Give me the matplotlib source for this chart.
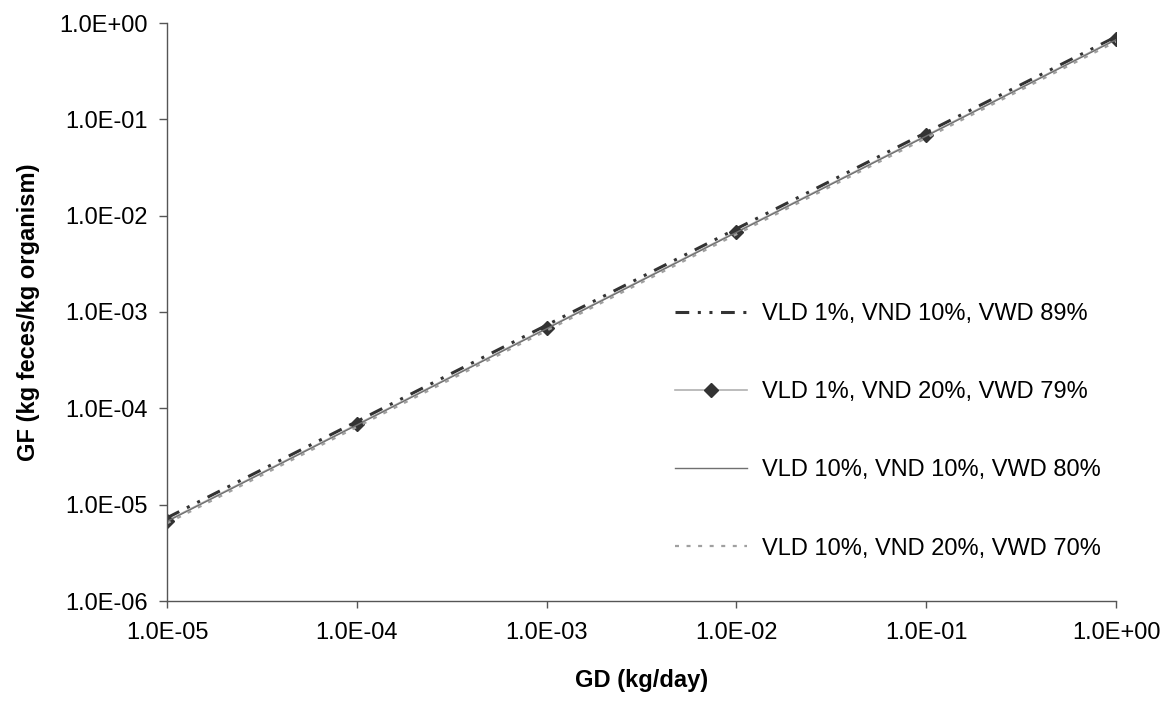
import numpy as np
import matplotlib.pyplot as plt
from matplotlib.ticker import FixedLocator, NullLocator

plt.rcParams['font.family'] = ['Liberation Sans', 'DejaVu Sans']

gd = [1e-5, 1e-4, 1e-3, 1e-2, 1e-1, 1e0]
gf_vld1_vnd10 = [7.3e-6, 7.3e-5, 7.3e-4, 7.3e-3, 7.3e-2, 0.72]
gf_vld1_vnd20 = [6.8e-6, 6.8e-5, 6.8e-4, 6.8e-3, 6.8e-2, 0.68]
gf_vld10_vnd10 = [6.7e-6, 6.7e-5, 6.7e-4, 6.7e-3, 6.7e-2, 0.67]
gf_vld10_vnd20 = [6.4e-6, 6.4e-5, 6.4e-4, 6.4e-3, 6.4e-2, 0.64]

labels = ['VLD 1%, VND 10%, VWD 89%',
          'VLD 1%, VND 20%, VWD 79%',
          'VLD 10%, VND 10%, VWD 80%',
          'VLD 10%, VND 20%, VWD 70%']
xticklabels = ['1.0E-05', '1.0E-04', '1.0E-03', '1.0E-02', '1.0E-01', '1.0E+00']
yticklabels = ['1.0E-06', '1.0E-05', '1.0E-04', '1.0E-03', '1.0E-02', '1.0E-01', '1.0E+00']

W, H = 1174, 702
fs = 17

fig = plt.figure(figsize=(W / 100, H / 100), dpi=100)
ax = fig.add_axes([167 / W, 1 - 601 / H, (1116 - 167) / W, (601 - 23) / H])

ax.plot(gd, gf_vld1_vnd10, color='#333333', lw=2.2, dashes=(4.5, 2.8, 1, 2.8, 1, 2.8),
        dash_capstyle='butt', label=labels[0])
ax.plot(gd, gf_vld1_vnd20, color='#b0b0b0', lw=1.2, marker='D', ms=7,
        mfc='#333333', mec='#333333', label=labels[1])
ax.plot(gd, gf_vld10_vnd10, color='#707070', lw=1, label=labels[2])
ax.plot(gd, gf_vld10_vnd20, color='#a0a0a0', lw=1.6, dashes=(1.8, 3.4),
        dash_capstyle='butt', label=labels[3])

ax.set_xscale('log')
ax.set_yscale('log')
ax.set_xlim(1e-5, 1e0)
ax.set_ylim(1e-6, 1e0)

ax.xaxis.set_major_locator(FixedLocator(gd))
ax.yaxis.set_major_locator(FixedLocator([1e-6] + gd))
ax.xaxis.set_minor_locator(NullLocator())
ax.yaxis.set_minor_locator(NullLocator())
ax.set_xticklabels(xticklabels, fontsize=fs)
ax.set_yticklabels(yticklabels, fontsize=fs)
ax.tick_params(axis='x', direction='out', length=5, width=1, color='#555555', pad=10)
ax.tick_params(axis='y', direction='out', length=6, width=1, color='#555555', pad=8)

for s in ['top', 'right']:
    ax.spines[s].set_visible(False)
for s in ['left', 'bottom']:
    ax.spines[s].set_color('#555555')
    ax.spines[s].set_linewidth(1)

ax.set_xlabel('GD (kg/day)', fontsize=fs, fontweight='bold', labelpad=18)
ax.set_ylabel('GF (kg feces/kg organism)', fontsize=fs, fontweight='bold', labelpad=14)

ax.legend(loc='upper left', bbox_to_anchor=(675 / W, 1 - 303 / H),
          bbox_transform=fig.transFigure, frameon=False, fontsize=fs,
          borderpad=0, borderaxespad=0,
          handlelength=3.05, labelspacing=2.38, handletextpad=0.64)

plt.savefig('out.png', dpi=100)
